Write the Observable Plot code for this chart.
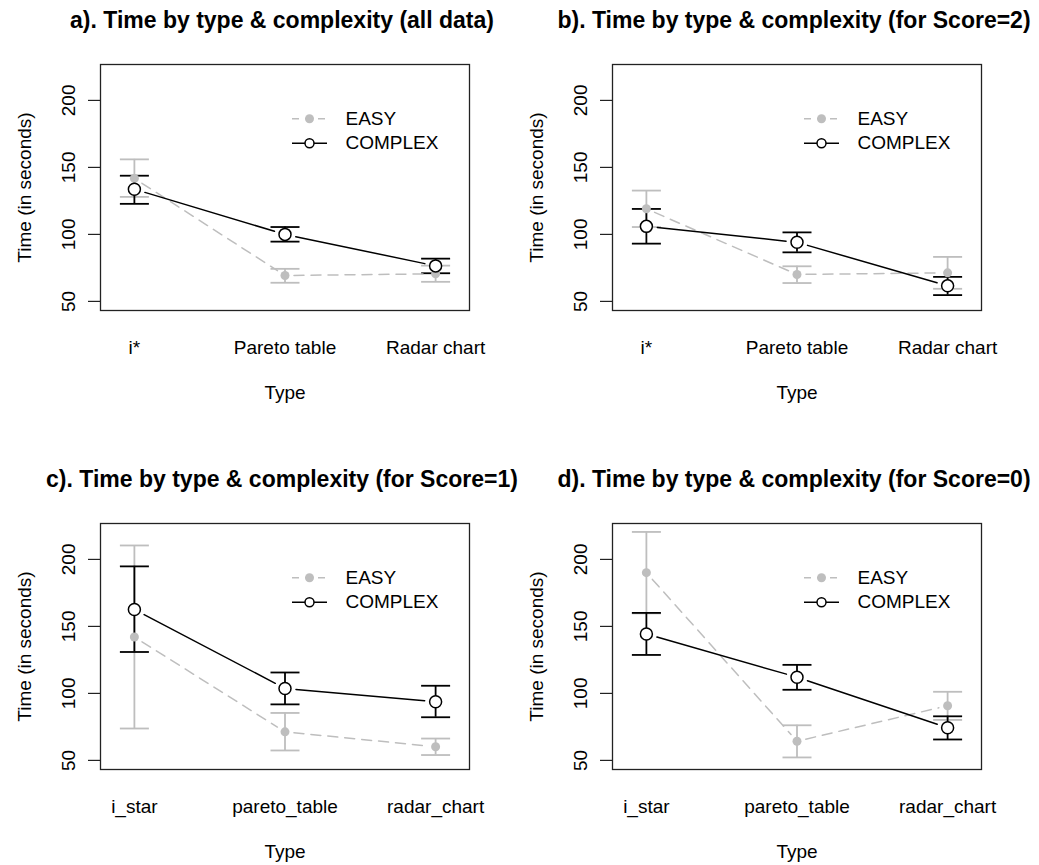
<!DOCTYPE html>
<html><head><meta charset="utf-8">
<script src="https://cdn.jsdelivr.net/npm/d3@7"></script>
<script src="https://cdn.jsdelivr.net/npm/@observablehq/plot@0.6"></script>
<style>
body{margin:0;background:#fff;overflow:hidden;font-family:"Liberation Sans",Arial,sans-serif;}
#root{position:relative;width:1039px;height:865px;overflow:hidden;}
.panel{position:absolute;width:512px;height:459px;}
.title{position:absolute;top:8px;left:0;width:564px;text-align:center;font-weight:bold;font-size:23px;line-height:24px;white-space:nowrap;color:#000}
.panel svg{position:absolute;top:40px;left:0}
</style></head><body><div id="root"></div>
<script>
// ---- data ----
const typesAB = ["i*", "Pareto table", "Radar chart"];
const typesCD = ["i_star", "pareto_table", "radar_chart"];
const yTicks = [50, 100, 150, 200];
const legendLabels = ["EASY", "COMPLEX"];
const titles = [
  "a). Time by type & complexity (all data)",
  "b). Time by type & complexity (for Score=2)",
  "c). Time by type & complexity (for Score=1)",
  "d). Time by type & complexity (for Score=0)"
];

// panel a (all data)
const aEasyMean = [141.8, 69.3, 70.6];
const aEasyLo = [128.0, 63.9, 64.6];
const aEasyHi = [156.0, 74.3, 76.7];
const aComplexMean = [133.7, 100.0, 76.5];
const aComplexLo = [122.8, 94.6, 71.0];
const aComplexHi = [143.8, 105.5, 81.9];
// panel b (Score=2)
const bEasyMean = [119.1, 70.1, 71.3];
const bEasyLo = [105.5, 63.7, 59.4];
const bEasyHi = [132.7, 76.2, 83.2];
const bComplexMean = [106.0, 94.1, 61.6];
const bComplexLo = [93.1, 86.6, 54.7];
const bComplexHi = [119.0, 101.5, 68.3];
// panel c (Score=1)
const cEasyMean = [142.1, 71.3, 60.2];
const cEasyLo = [73.8, 57.4, 54.0];
const cEasyHi = [210.4, 85.4, 66.3];
const cComplexMean = [162.6, 103.7, 93.8];
const cComplexLo = [130.9, 91.8, 82.2];
const cComplexHi = [194.8, 115.6, 105.7];
// panel d (Score=0)
const dEasyMean = [190.1, 64.3, 90.8];
const dEasyLo = [159.7, 52.2, 80.2];
const dEasyHi = [220.5, 76.2, 101.2];
const dComplexMean = [144.3, 112.1, 74.3];
const dComplexLo = [128.7, 102.7, 65.6];
const dComplexHi = [160.1, 121.3, 82.9];

// ---- drawing ----
const GRAY = "#bebebe";
const capSymbol = {draw(ctx) { ctx.moveTo(-14.5, 0); ctx.lineTo(14.5, 0); }};
const legendLine = {draw(ctx) { ctx.moveTo(-17.5, 0); ctx.lineTo(17.5, 0); }};

function series(mean, lo, hi) {
  return mean.map((m, i) => ({x: i + 1, m, lo: lo[i], hi: hi[i]}));
}
function segs(s) {
  return s.slice(0, -1).map((d, i) => ({x1: d.x, y1: d.m, x2: s[i + 1].x, y2: s[i + 1].m}));
}
function caps(s) {
  return s.flatMap(d => [{x: d.x, y: d.lo}, {x: d.x, y: d.hi}]);
}

function makePanel(types, em, el, eh, cm, cl, ch) {
  const easy = series(em, el, eh);
  const comp = series(cm, cl, ch);
  const legY = [54.3, 78.7];
  return Plot.plot({
    width: 512, height: 365,
    marginLeft: 100, marginRight: 43, marginTop: 24, marginBottom: 95,
    style: {fontFamily: "'Liberation Sans', Arial, sans-serif", fontSize: "19px", background: "white", color: "black", overflow: "visible"},
    x: {domain: [0.775, 3.225], axis: null},
    y: {domain: [43.2, 226.8], axis: null},
    marks: [
      Plot.axisY({ticks: yTicks, tickSize: 12, tickFormat: () => "", label: null, stroke: "#222", strokeWidth: 1.2}),
      Plot.text(yTicks, {y: d => d, frameAnchor: "left", dx: -32, rotate: -90, textAnchor: "middle", lineAnchor: "middle", fontSize: 19, fill: "black"}),
      Plot.text(["Time (in seconds)"], {frameAnchor: "left", dx: -76, rotate: -90, textAnchor: "middle", lineAnchor: "middle", fontSize: 19, fill: "black"}),
      Plot.text(types, {x: (d, i) => i + 1, frameAnchor: "bottom", dy: 37, lineAnchor: "middle", fontSize: 19, fill: "black"}),
      Plot.text(["Type"], {frameAnchor: "bottom", dy: 82, lineAnchor: "middle", fontSize: 19, fill: "black"}),
      // error bars
      Plot.ruleX(easy, {x: "x", y1: "lo", y2: "hi", stroke: GRAY, strokeWidth: 1.8}),
      Plot.dot(caps(easy), {x: "x", y: "y", symbol: capSymbol, fill: "none", stroke: GRAY, strokeWidth: 1.8}),
      Plot.ruleX(comp, {x: "x", y1: "lo", y2: "hi", stroke: "black", strokeWidth: 1.8}),
      Plot.dot(caps(comp), {x: "x", y: "y", symbol: capSymbol, fill: "none", stroke: "black", strokeWidth: 1.8}),
      // connecting lines with gaps
      Plot.arrow(segs(easy), {x1: "x1", y1: "y1", x2: "x2", y2: "y2", insetStart: 9, insetEnd: 9, headLength: 0, stroke: GRAY, strokeWidth: 1.5, strokeDasharray: "10,7"}),
      Plot.arrow(segs(comp), {x1: "x1", y1: "y1", x2: "x2", y2: "y2", insetStart: 11, insetEnd: 11, headLength: 0, stroke: "black", strokeWidth: 1.5}),
      // points
      Plot.dot(easy, {x: "x", y: "m", r: 4.5, fill: GRAY, stroke: "none"}),
      Plot.dot(comp, {x: "x", y: "m", r: 6, fill: "white", stroke: "black", strokeWidth: 1.5}),
      // legend
      Plot.dot([0], {frameAnchor: "top-left", dx: 209, dy: legY[0], symbol: legendLine, fill: "none", stroke: GRAY, strokeWidth: 1.5, strokeDasharray: "7,6"}),
      Plot.dot([0], {frameAnchor: "top-left", dx: 209, dy: legY[0], r: 4.5, fill: GRAY, stroke: "none"}),
      Plot.dot([0], {frameAnchor: "top-left", dx: 209, dy: legY[1], symbol: legendLine, fill: "none", stroke: "black", strokeWidth: 1.5}),
      Plot.dot([0], {frameAnchor: "top-left", dx: 209, dy: legY[1], r: 4.5, fill: "white", stroke: "black", strokeWidth: 1.5}),
      Plot.text([legendLabels[0]], {frameAnchor: "top-left", dx: 245, dy: legY[0], textAnchor: "start", lineAnchor: "middle", fontSize: 19, fill: "black"}),
      Plot.text([legendLabels[1]], {frameAnchor: "top-left", dx: 245, dy: legY[1], textAnchor: "start", lineAnchor: "middle", fontSize: 19, fill: "black"}),
      Plot.frame({stroke: "#222", strokeWidth: 1.3})
    ]
  });
}

const panels = [
  [typesAB, aEasyMean, aEasyLo, aEasyHi, aComplexMean, aComplexLo, aComplexHi],
  [typesAB, bEasyMean, bEasyLo, bEasyHi, bComplexMean, bComplexLo, bComplexHi],
  [typesCD, cEasyMean, cEasyLo, cEasyHi, cComplexMean, cComplexLo, cComplexHi],
  [typesCD, dEasyMean, dEasyLo, dEasyHi, dComplexMean, dComplexLo, dComplexHi]
];
const root = document.getElementById("root");
panels.forEach((p, k) => {
  const div = document.createElement("div");
  div.className = "panel";
  div.style.left = (k % 2) * 512 + "px";
  div.style.top = Math.floor(k / 2) * 459 + "px";
  const t = document.createElement("div");
  t.className = "title";
  t.textContent = titles[k];
  div.appendChild(t);
  div.appendChild(makePanel(...p));
  root.appendChild(div);
});
</script></body></html>
